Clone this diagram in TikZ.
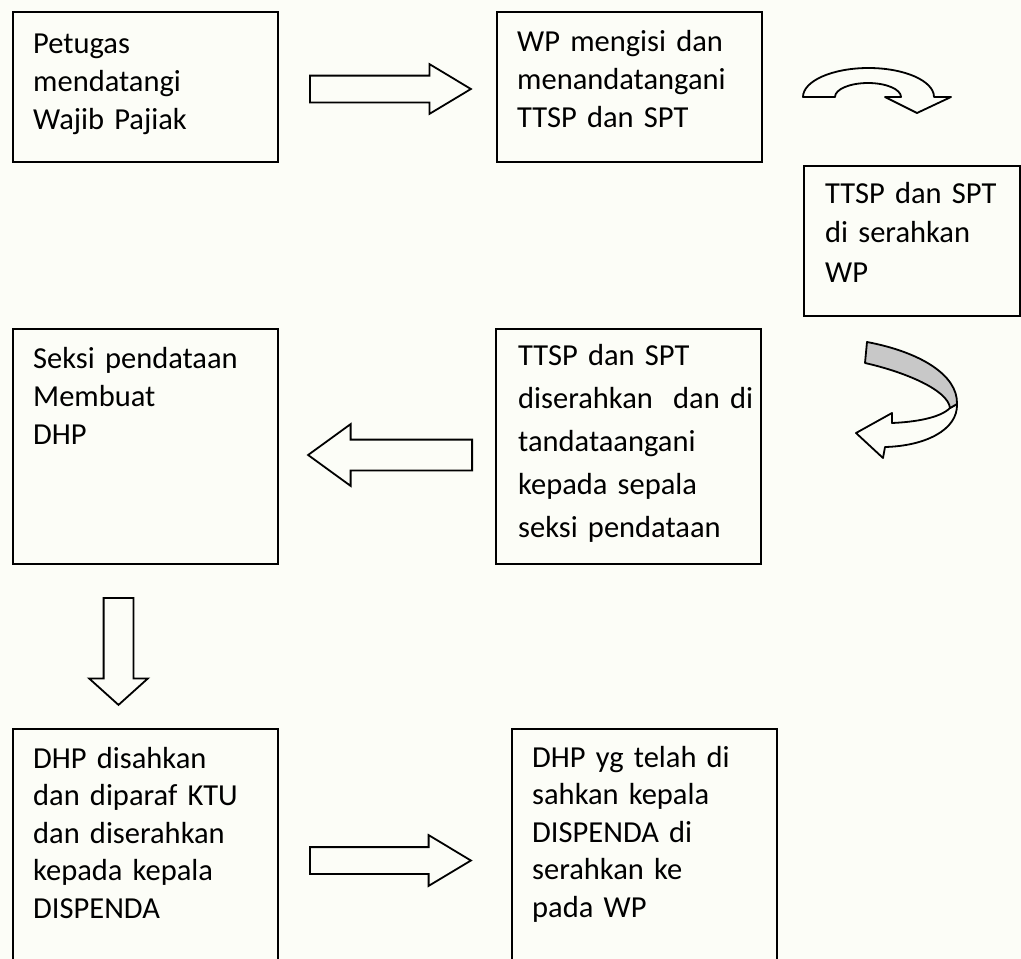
\documentclass[tikz,border=0pt]{standalone}
\usepackage{fontspec}
\setmainfont{Carlito}
\usetikzlibrary{positioning,calc,shapes.arrows}
\definecolor{paper}{RGB}{252,253,247}
\definecolor{twist}{RGB}{200,200,200}
\tikzset{
  flow/box/.style={draw, line width=1.8pt, inner sep=0pt, anchor=north west, minimum width=265pt, minimum height=150pt},
  flow/words/.style={font=\fontsize{30.5}{38}\selectfont, align=left, text width=250pt, inner sep=0pt, anchor=base west},
  flow/arrow/.style={draw, line width=1.8pt, single arrow, anchor=tail, inner xsep=0pt, inner ysep=12.5pt, single arrow head extend=11.5pt},
  flow/curve/.style={draw, line width=1.8pt, line join=round}
}

\begin{document}
\begin{tikzpicture}[x=1pt, y=-1pt]
  \path[use as bounding box, fill=paper] (0,0) rectangle (1021,959);

  % the seven steps
  \node[flow/box] (petugas) at (12,11) {};
  \node[flow/box] (isi) at (496,11) {};
  \node[flow/box, minimum width=216pt] (serah) at (803,165) {};
  \node[flow/box, minimum height=235pt] (dhp) at (12,328) {};
  \node[flow/box, minimum height=235pt] (kasi) at (495,328) {};
  \node[flow/box, minimum height=240pt] (sah) at (12,728) {};
  \node[flow/box, minimum height=240pt] (wp) at (511,728) {};

  \node[flow/words] (petugasT) at ($(petugas.north west)+(21,42)$) {Petugas\\mendatangi\\Wajib Pajiak};
  \node[flow/words] (isiT) at ($(isi.north west)+(21,40)$) {WP mengisi dan\\menandatangani\\TTSP dan SPT};
  \node[flow/words, font=\fontsize{30.5}{39.5}\selectfont] (serahT) at ($(serah.north west)+(22,38)$) {TTSP dan SPT\\di serahkan\\WP};
  \node[flow/words] (dhpT) at ($(dhp.north west)+(21,40)$) {Seksi pendataan\\Membuat\\DHP};
  \node[flow/words, font=\fontsize{30.5}{43}\selectfont] (kasiT) at ($(kasi.north west)+(23,37)$) {TTSP dan SPT\\diserahkan\ \ dan di\\tandataangani\\kepada sepala\\seksi pendataan};
  \node[flow/words, font=\fontsize{30.5}{37.5}\selectfont] (sahT) at ($(sah.north west)+(21,40)$) {DHP disahkan\\dan diparaf KTU\\dan diserahkan\\kepada kepala\\DISPENDA};
  \node[flow/words, font=\fontsize{30.5}{37.5}\selectfont] (wpT) at ($(wp.north west)+(21,39)$) {DHP yg telah di\\sahkan kepala\\DISPENDA di\\serahkan ke\\pada WP};

  % block arrows
  \node[flow/arrow, minimum height=161pt, single arrow tip angle=62] (a1) at (309,89) {};
  \node[flow/arrow, minimum height=164pt, inner ysep=14.5pt, single arrow head extend=15.5pt, single arrow tip angle=72, rotate=180] (a3) at (473,455) {};
  \node[flow/arrow, minimum height=107pt, inner ysep=14pt, single arrow head extend=14.5pt, single arrow tip angle=96, rotate=-90] (a4) at (118.5,597) {};
  \node[flow/arrow, minimum height=161pt, single arrow head extend=12pt, single arrow tip angle=62] (a5) at (309,860.5) {};

  % curved arrow to the third step
  \draw[flow/curve, fill=paper] (803,97) arc[start angle=180, end angle=360, x radius=65.5, y radius=29]
    -- (951,97) -- (917,113) -- (885,97) -- (901,97)
    arc[start angle=360, end angle=180, x radius=33, y radius=14] -- cycle;

  % twisted arrow back to the left
  \draw[flow/curve, fill=paper] (950,408) .. controls (940,418) and (915,422) .. (892,423)
    -- (892,413) -- (856,433) -- (883,458) -- (885,447)
    .. controls (925,446) and (958,430) .. (957,404) -- cycle;
  \draw[flow/curve, fill=twist] (867,342) .. controls (920,352) and (958,375) .. (957,404)
    -- (950,408) .. controls (948,390) and (905,372) .. (865,363) -- cycle;
\end{tikzpicture}
\end{document}
